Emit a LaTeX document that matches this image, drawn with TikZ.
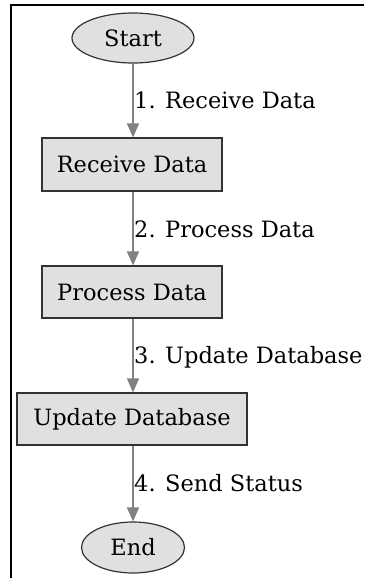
\documentclass[tikz,border=0pt]{standalone}
\usepackage{fontspec}
\setmainfont{DejaVu Serif}
\usetikzlibrary{shapes.geometric,arrows.meta}
\definecolor{nodefill}{HTML}{E0E0E0}
\definecolor{nodeline}{HTML}{333333}
\definecolor{flowline}{HTML}{808080}
\begin{document}
\begin{tikzpicture}[x=1pt,y=-1pt,
  terminal/.style={ellipse,draw=nodeline,fill=nodefill,line width=1.2pt,inner sep=0pt,
    font=\fontsize{22.5}{26}\selectfont},
  stepbox/.style={rectangle,draw=nodeline,fill=nodefill,line width=1.2pt,inner sep=0pt,
    font=\fontsize{22.5}{26}\selectfont},
  flow/.style={draw=flowline,line width=1.6pt,-{Triangle[length=14pt,width=12pt]}},
  steplabel/.style={anchor=west,inner sep=0pt,font=\fontsize{22.5}{26}\selectfont}]
  \useasboundingbox (0,0) rectangle (364,578);
  % frame
  \draw[line width=2pt,black] (364,5) -- (10.5,5) -- (10.5,578);
  % nodes
  \node[terminal,minimum width=122pt,minimum height=50pt] (start) at (133,38) {Start};
  \node[stepbox,minimum width=180pt,minimum height=53pt] (recv) at (132,164.5) {Receive Data};
  \node[stepbox,minimum width=180pt,minimum height=52pt] (proc) at (132,292) {Process Data};
  \node[stepbox,minimum width=230pt,minimum height=52pt] (upd) at (132,419) {Update Database};
  \node[terminal,minimum width=103pt,minimum height=51pt] (end) at (133,547.5) {End};
  % connectors
  \draw[flow] (start.south -| 133,0) -- (recv.north -| 133,0);
  \draw[flow] (recv.south -| 133,0) -- (proc.north -| 133,0);
  \draw[flow] (proc.south -| 133,0) -- (upd.north -| 133,0);
  \draw[flow] (upd.south -| 133,0) -- (end.north -| 133,0);
  % connector labels
  \node[steplabel] (l1) at (134,100) {1. Receive Data};
  \node[steplabel] (l2) at (134,229) {2. Process Data};
  \node[steplabel] (l3) at (134,357) {3. Update Database};
  \node[steplabel] (l4) at (134,483) {4. Send Status};
\end{tikzpicture}
\end{document}
